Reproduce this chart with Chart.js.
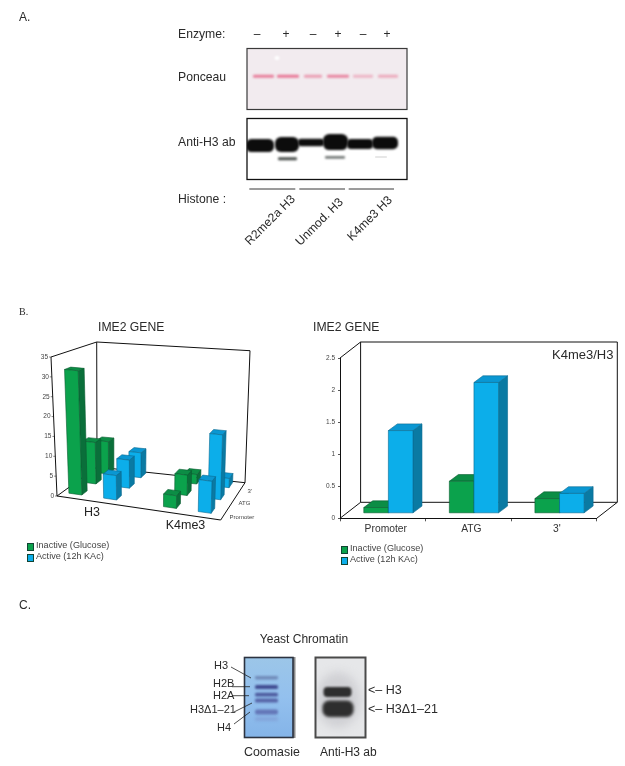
<!DOCTYPE html>
<html><head><meta charset="utf-8">
<script src="https://cdn.jsdelivr.net/npm/chart.js@4"></script>
<style>
html,body{margin:0;padding:0;background:#fff;width:625px;height:766px;overflow:hidden}
#stage{position:relative;width:625px;height:766px;font-family:"Liberation Sans",Arial,sans-serif;color:#2a2a2a}
canvas{position:absolute}
.t{position:absolute;white-space:nowrap;line-height:1;transform:translateY(-50%)}
.r{position:absolute;white-space:nowrap;line-height:1;transform-origin:100% 50%;transform:translate(-100%,-50%) rotate(-45deg)}
.sq{position:absolute;width:5px;height:6px;border:0.5px solid #143;box-sizing:content-box}
</style></head><body><div id="stage">
<canvas id="bg" width="625" height="766" style="left:0;top:0"></canvas>
<div style="position:absolute;left:0;top:330px;width:310px;height:220px"><canvas id="left"></canvas></div>
<div style="position:absolute;left:310px;top:330px;width:315px;height:210px"><canvas id="right"></canvas></div>
</div>
<script>
// ---------- chart data ----------
const groupLabels = ['H3', 'K4me3'];
const rowLabels = ['Promoter', 'ATG', "3'"];
const leftTicks = [0, 5, 10, 15, 20, 25, 30, 35];
const inactivePromoter = [31.5, 3.1];
const activePromoter = [6.1, 7.8];
const inactiveATG = [10.9, 5.2];
const activeATG = [7.3, 16.4];
const inactive3 = [8.8, 2.5];
const active3 = [6.7, 2.4];

const ratioLabels = ['Promoter', 'ATG', "3'"];
const ratioInactive = [0.09, 0.5, 0.23];
const ratioActive = [1.29, 2.04, 0.31];

const seriesNames = ['Inactive (Glucose)', 'Active (12h KAc)'];
const enzymeMarks = ['\u2013', '+', '\u2013', '+', '\u2013', '+'];
const histoneLabels = ['R2me2a H3', 'Unmod. H3', 'K4me3 H3'];
const coomassieBands = ['H3', 'H2B', 'H2A', 'H3\u03941\u201321', 'H4'];

// ---------- colours ----------
const GREEN = {front:'#0ba24c', top:'#0c8d45', side:'#0a6f3a', line:'#0a5c30'};
const BLUE = {front:'#0caeea', top:'#0a97d2', side:'#0a7aa3', line:'#0a6a90'};

function poly(ctx, pts, fill, line){
  ctx.beginPath();
  pts.forEach((p,i)=> i ? ctx.lineTo(p[0],p[1]) : ctx.moveTo(p[0],p[1]));
  ctx.closePath();
  if(fill){ctx.fillStyle=fill;ctx.fill();}
  if(line){ctx.strokeStyle=line;ctx.lineWidth=0.6;ctx.stroke();}
}
function seg(ctx,a,b,w){ctx.beginPath();ctx.moveTo(a[0],a[1]);ctx.lineTo(b[0],b[1]);ctx.lineWidth=w||1;ctx.strokeStyle='#111';ctx.stroke();}

// ---------- left: perspective box (canvas coords; canvas top = 330) ----------
const OY = 330;
const C = {
  fl0:[57,496-OY], fr0:[220.7,520-OY], bl0:[97,467-OY], br0:[245,482.7-OY],
  fl1:[51,357-OY], fr1:[225,374-OY],  bl1:[96.7,342-OY], br1:[250,350.7-OY]
};
function lerp(a,b,t){return [a[0]+(b[0]-a[0])*t, a[1]+(b[1]-a[1])*t];}
function proj(u,w,t){
  const f0=lerp(C.fl0,C.fr0,u), b0=lerp(C.bl0,C.br0,u);
  const f1=lerp(C.fl1,C.fr1,u), b1=lerp(C.bl1,C.br1,u);
  return lerp(lerp(f0,b0,w),lerp(f1,b1,w),t);
}
const ROW_W = [0.13,0.5,0.83], ROW_D = 0.14;
const perspectivePlugin = {
  id:'perspective',
  beforeDatasetsDraw(chart){
    const ctx=chart.ctx, a=chart.chartArea, ys=chart.scales.y;
    ctx.save();
    ctx.lineJoin='round';
    seg(ctx,C.fl1,C.bl1,1);seg(ctx,C.bl1,C.br1,1);seg(ctx,C.br1,C.br0,1);
    seg(ctx,C.fl1,C.fl0,1);seg(ctx,C.bl1,C.bl0,1);
    seg(ctx,C.fl0,C.fr0,1.2);seg(ctx,C.fl0,C.bl0,1);seg(ctx,C.bl0,C.br0,1);seg(ctx,C.fr0,C.br0,1);
    ctx.font='6.5px "Liberation Sans"';ctx.fillStyle='#444';ctx.textAlign='right';ctx.textBaseline='middle';
    leftTicks.forEach(v=>{
      const t=(a.bottom-ys.getPixelForValue(v))/a.height;
      const p=proj(0,0,t);
      ctx.fillText(String(v),p[0]-3,p[1]);
      seg(ctx,[p[0]-2,p[1]],p,0.5);
    });
    ctx.font='6px "Liberation Sans"';ctx.textAlign='left';
    rowLabels.forEach((name,i)=>{
      const p=proj(1,ROW_W[i]+ROW_D/2,0);
      ctx.fillText(name,p[0]+[4,4,5][i],p[1]+5);
    });
    ctx.font='12.5px "Liberation Sans"';ctx.fillStyle='#222';ctx.textAlign='center';
    ctx.fillText(groupLabels[0],92,513-OY);
    ctx.fillText(groupLabels[1],185.5,526-OY);
    [4,5,2,3,0,1].forEach(di=>{
      const meta=chart.getDatasetMeta(di), ds=chart.data.datasets[di];
      const col=di%2?BLUE:GREEN, w0=ROW_W[ds.row], w1=w0+ROW_D;
      meta.data.forEach(el=>{
        const U=x=>-0.1035+1.17*(x-a.left)/a.width;
        const u0=U(el.x-el.width/2),u1=U(el.x+el.width/2);
        const t=(a.bottom-el.y)/a.height;
        const A=proj(u0,w0,0),B=proj(u1,w0,0),D=proj(u0,w0,t),E=proj(u1,w0,t),
              F=proj(u1,w1,0),G=proj(u1,w1,t),H=proj(u0,w1,t);
        poly(ctx,[B,F,G,E],col.side,col.line);
        poly(ctx,[D,E,G,H],col.top,col.line);
        poly(ctx,[A,B,E,D],col.front,col.line);
      });
    });
    ctx.restore();
    return false;
  }
};
new Chart(document.getElementById('left'),{
  type:'bar',
  data:{labels:groupLabels,datasets:[
    {label:seriesNames[0]+' Promoter',data:inactivePromoter,stack:'i',row:0,backgroundColor:GREEN.front},
    {label:seriesNames[1]+' Promoter',data:activePromoter,stack:'a',row:0,backgroundColor:BLUE.front},
    {label:seriesNames[0]+' ATG',data:inactiveATG,stack:'i',row:1,backgroundColor:GREEN.front},
    {label:seriesNames[1]+' ATG',data:activeATG,stack:'a',row:1,backgroundColor:BLUE.front},
    {label:seriesNames[0]+" 3'",data:inactive3,stack:'i',row:2,backgroundColor:GREEN.front},
    {label:seriesNames[1]+" 3'",data:active3,stack:'a',row:2,backgroundColor:BLUE.front}
  ]},
  options:{
    responsive:true,maintainAspectRatio:false,animation:false,devicePixelRatio:1,
    layout:{padding:0},
    plugins:{legend:{display:false},tooltip:{enabled:false}},
    datasets:{bar:{categoryPercentage:0.735,barPercentage:0.372}},
    scales:{
      x:{display:false},
      y:{display:false,min:0,max:35,stacked:false}
    }
  },
  plugins:[perspectivePlugin]
});

// ---------- right: oblique box ----------
const DX=9, DY=-6.7, SHIFT_X=5.6, SHIFT_Y=-5;
const obliquePlugin = {
  id:'oblique',
  beforeDatasetsDraw(chart){
    const ctx=chart.ctx,a=chart.chartArea;
    const wx=20.6, wy=-16;
    ctx.save();
    seg(ctx,[a.left+wx,a.top+wy],[a.right+wx,a.top+wy],1);
    seg(ctx,[a.left,a.top],[a.left+wx,a.top+wy],1);
    seg(ctx,[a.left+wx,a.top+wy],[a.left+wx,a.bottom+wy],1);
    seg(ctx,[a.right+wx,a.top+wy],[a.right+wx,a.bottom+wy],1);
    seg(ctx,[a.left+wx,a.bottom+wy],[a.right+wx,a.bottom+wy],1);
    seg(ctx,[a.left,a.bottom],[a.left+wx,a.bottom+wy],1);
    seg(ctx,[a.right,a.bottom],[a.right+wx,a.bottom+wy],1);
    const n=chart.data.labels.length;
    for(let i=0;i<n;i++){
      [0,1].forEach(di=>{
        const el=chart.getDatasetMeta(di).data[i], col=di?BLUE:GREEN;
        const x0=el.x-el.width/2+SHIFT_X,x1=el.x+el.width/2+SHIFT_X,y0=el.y+SHIFT_Y,y1=el.base+SHIFT_Y;
        poly(ctx,[[x1,y1],[x1+DX,y1+DY],[x1+DX,y0+DY],[x1,y0]],col.side,col.line);
        poly(ctx,[[x0,y0],[x1,y0],[x1+DX,y0+DY],[x0+DX,y0+DY]],col.top,col.line);
        poly(ctx,[[x0,y0],[x1,y0],[x1,y1],[x0,y1]],col.front,col.line);
      });
    }
    ctx.restore();
    return false;
  }
};
new Chart(document.getElementById('right'),{
  type:'bar',
  data:{labels:ratioLabels,datasets:[
    {label:seriesNames[0],data:ratioInactive,backgroundColor:GREEN.front},
    {label:seriesNames[1],data:ratioActive,backgroundColor:BLUE.front}
  ]},
  options:{
    responsive:true,maintainAspectRatio:false,animation:false,devicePixelRatio:1,
    layout:{padding:{left:0,right:28.3,top:28,bottom:0}},
    plugins:{legend:{display:false},tooltip:{enabled:false}},
    datasets:{bar:{categoryPercentage:0.575,barPercentage:1}},
    scales:{
      x:{
        offset:true,
        afterFit(s){s.height=21.7;},
        grid:{display:true,drawOnChartArea:false,tickLength:3,color:'#555',offset:true},
        border:{color:'#111',width:1},
        ticks:{color:'#333',font:{family:'Liberation Sans',size:10.3},padding:2,labelOffset:3,maxRotation:0}
      },
      y:{
        min:0,max:2.5,
        afterFit(s){s.width=30;},
        grid:{display:true,drawOnChartArea:false,tickLength:2,color:'#555'},
        border:{color:'#111',width:1},
        ticks:{stepSize:0.5,color:'#444',font:{family:'Liberation Sans',size:6.5},padding:3,callback:v=>String(v)}
      }
    }
  },
  plugins:[obliquePlugin]
});

// ---------- text layer ----------
const stage=document.getElementById('stage');
function T(txt,x,y,size,extra){const d=document.createElement('div');d.className='t';d.textContent=txt;d.style.left=x+'px';d.style.top=y+'px';d.style.fontSize=size+'px';if(extra)Object.assign(d.style,extra);stage.appendChild(d);return d;}
T('A.',19,17,12);T('B.',19,312,10,{fontFamily:'"Liberation Serif"'});T('C.',19,605,12);
T('Enzyme:',178,34,12.2);T('Ponceau',178,77,12.2);T('Anti-H3 ab',178,142,12.2);T('Histone :',178,199,12.2);
[257,286,313,338,363,387].forEach((x,i)=>{T(enzymeMarks[i],x,34,12,{transform:'translate(-50%,-50%)'});});
[[293,197],[341,200],[390,198]].forEach((p,i)=>{const d=document.createElement('div');d.className='r';d.textContent=histoneLabels[i];d.style.left=p[0]+'px';d.style.top=p[1]+'px';d.style.fontSize='12.2px';stage.appendChild(d);});
T('IME2 GENE',98,327,12.2);T('IME2 GENE',313,327,12.2);T('K4me3/H3',552,354,13);
function leg(sqx,tx,y1,y2){
  [[y1,GREEN.front],[y2,BLUE.front]].forEach((r,i)=>{
    const s=document.createElement('div');s.className='sq';s.style.left=sqx+'px';s.style.top=(r[0]-3)+'px';s.style.background=r[1];stage.appendChild(s);
    T(seriesNames[i],tx,r[0],9.1,{color:'#444'});
  });
}
leg(27,36,545.6,557);leg(341,350,548.7,560);
T('Yeast Chromatin',304,639,12,{transform:'translate(-50%,-50%)'});
T(coomassieBands[0],214,665,11);T(coomassieBands[1],213,683,11);T(coomassieBands[2],213,695,11);
T(coomassieBands[3],190,709,11);T(coomassieBands[4],217,727,11);
T('Coomasie',244,752,12.4);T('Anti-H3 ab',320,752,12);
T('<\u2013 H3',368,690,12.5);T('<\u2013 H3\u03941\u201321',368,709,12.5);

// ---------- blot photographs (decorative raster panels) ----------
const g=document.getElementById('bg').getContext('2d');
function blob(x,y,w,h,col,b){g.save();g.filter='blur('+b+'px)';g.fillStyle=col;g.beginPath();g.ellipse(x,y,w/2,h/2,0,0,Math.PI*2);g.fill();g.restore();}
function bar(x0,x1,y,h,col,b){g.save();g.filter='blur('+b+'px)';g.fillStyle=col;g.beginPath();g.roundRect(x0,y-h/2,x1-x0,h,h/2.5);g.fill();g.restore();}
function panel(x,y,w,h,fill,fn,border,bw){
  g.save();g.beginPath();g.rect(x,y,w,h);g.clip();g.fillStyle=fill;g.fillRect(x,y,w,h);fn();g.restore();
  g.strokeStyle=border;g.lineWidth=bw;g.strokeRect(x,y,w,h);
}
// Ponceau
panel(247,48.5,160,61,'#f2ebef',()=>{
  blob(277,58,5,4,'#ffffff',1);
  [[253,274,.7],[277,299,.75],[304,322,.5],[327,349,.65],[353,373,.35],[378,398,.42]].forEach(b=>{
    bar(b[0],b[1],76.3,3,'rgba(228,80,120,'+b[2]+')',.9);
  });
},'#3a3a3a',1.2);
// Anti-H3
panel(247,118.5,160,61,'#ffffff',()=>{
  [[246,274,145.5,13],[275,299,144.5,15],[298,324,142.5,7.5],[323,348,142,16],[347,373,144,10],[372,398,143,12.5]].forEach(b=>{
    bar(b[0],b[1],b[2],b[3],'#0c0c0c',.9);
  });
  bar(278,297,158.8,3,'#4a4f4c',.9);
  bar(325,345,157.3,2.2,'#5a605e',.9);
  bar(375,387,157,1,'#d0d0d0',.7);
},'#111',1.3);
g.strokeStyle='#222';g.lineWidth=0.9;
[[249.3,295.3],[299.3,345],[348.7,394]].forEach(l=>{g.beginPath();g.moveTo(l[0],189);g.lineTo(l[1],189);g.stroke();});
// Coomassie gel
g.fillStyle='#8a8a8a';g.fillRect(292.5,657,3,81);
panel(244.5,657.5,48.5,80,'#8dbdec',()=>{
  const gr=g.createLinearGradient(0,657,0,738);gr.addColorStop(0,'#9cc6e8');gr.addColorStop(.5,'#93c0ee');gr.addColorStop(1,'#84b4e8');
  g.fillStyle=gr;g.fillRect(244,657,50,81);
  [[677.7,3.4,'rgba(95,115,165,.7)',1.2],[687,4.2,'rgba(60,70,140,.95)',1],[694.6,3.8,'rgba(70,80,150,.9)',1],[700.6,4,'rgba(75,85,155,.85)',1],[712,5,'rgba(85,95,165,.75)',1.3],[719,4,'rgba(120,135,195,.4)',1.6]].forEach(b=>{
    bar(255,278,b[0],b[1],b[2],b[3]);
  });
},'#2c3340',1.6);
// Anti-H3 film
panel(315.5,657.5,50,80,'#e6e7e9',()=>{
  blob(338,700,44,56,'rgba(190,190,195,.55)',5);
  bar(323.5,351.5,692,10,'#2e2e2e',1.2);
  bar(322.5,353.5,708.7,16.5,'#2e2e2e',1.4);
},'#4a4a4a',2);
// Coomassie leader lines
g.strokeStyle='#222';g.lineWidth=0.8;
[[[231,667],[251,678]],[[232,686.7],[250,686.7]],[[232,695.7],[249,695.7]],[[234,712],[252,703]],[[234,724],[250,712]]].forEach(l=>{g.beginPath();g.moveTo(l[0][0],l[0][1]);g.lineTo(l[1][0],l[1][1]);g.stroke();});
</script></body></html>
